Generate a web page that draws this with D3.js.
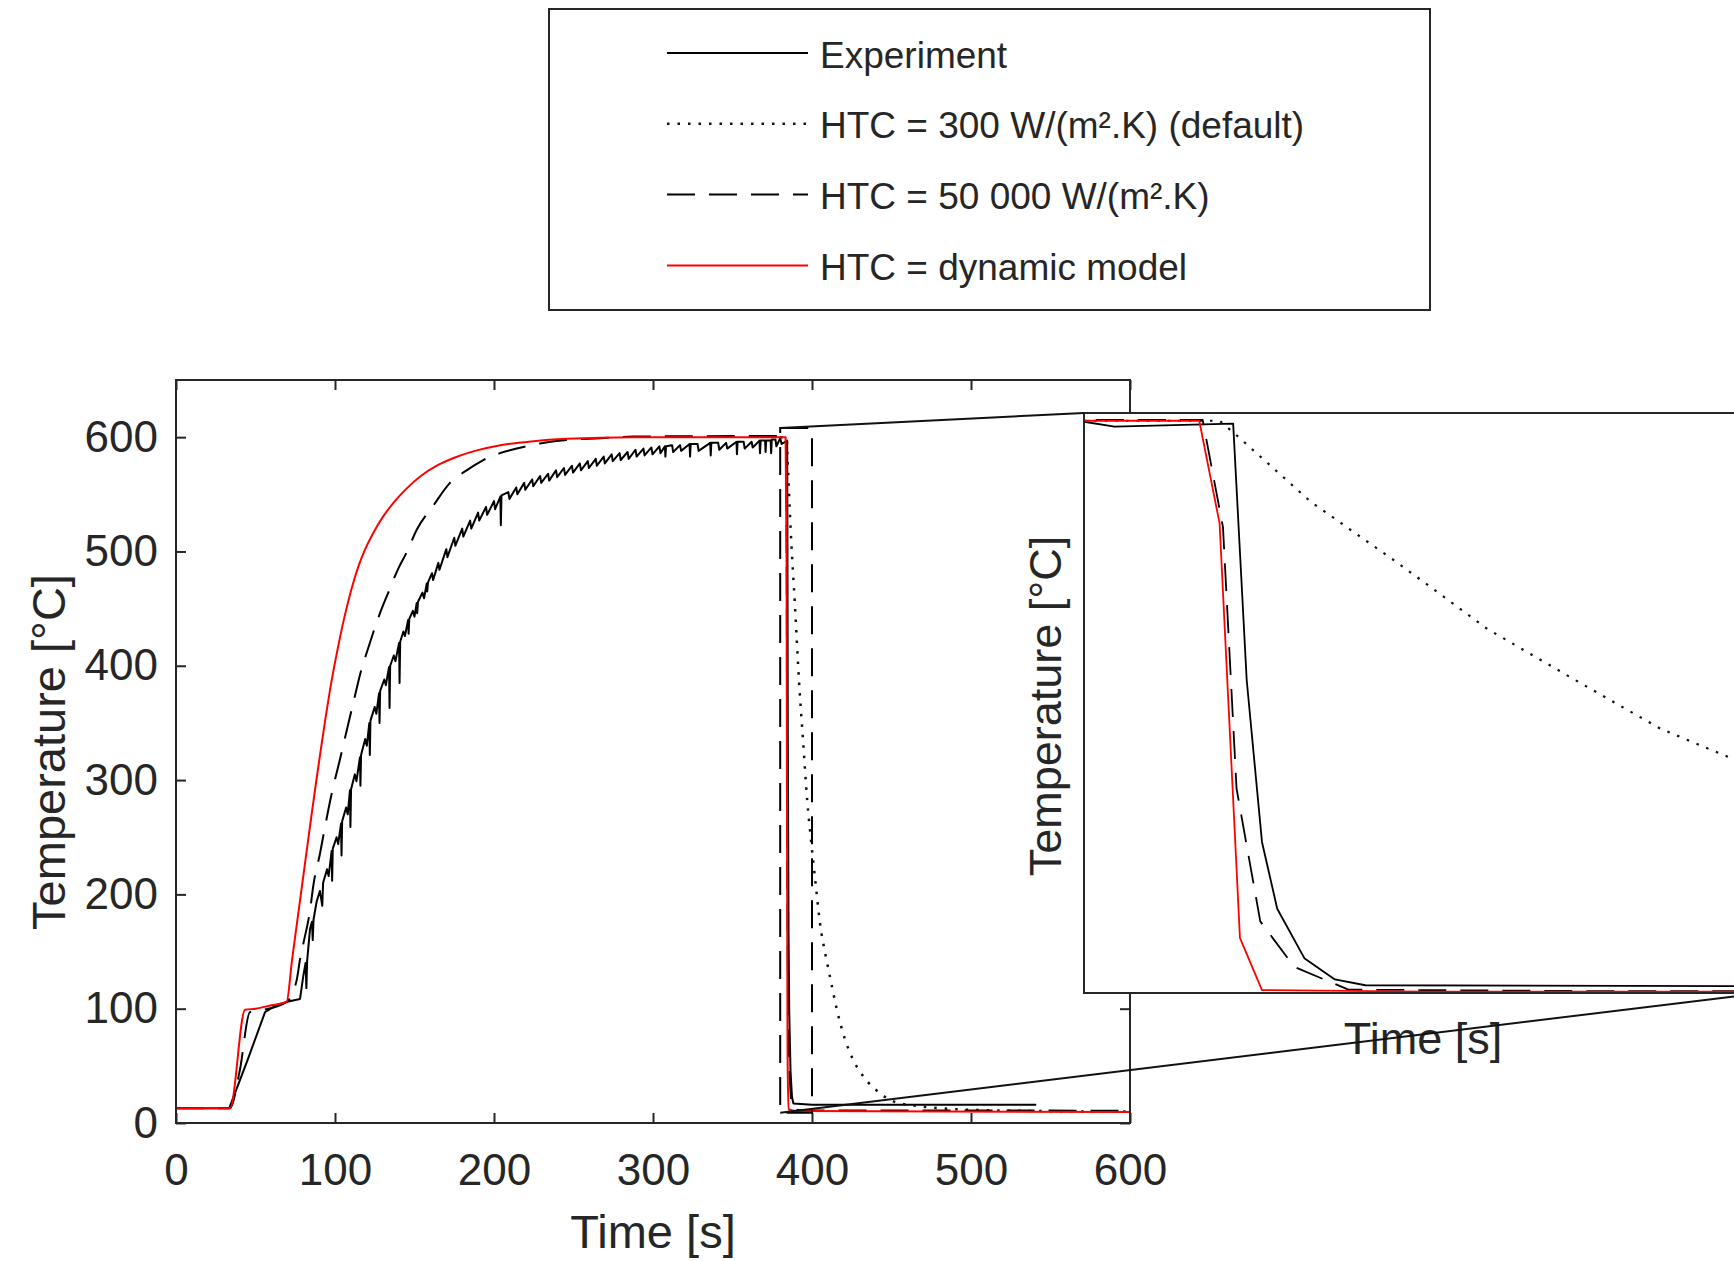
<!DOCTYPE html>
<html>
<head>
<meta charset="utf-8">
<script src="https://cdn.jsdelivr.net/npm/d3@7"></script>
<style>
  body { margin: 0; background: #fff; }
  svg { display: block; font-family: "Liberation Sans", Arial, Helvetica, sans-serif; }
</style>
</head>
<body>
<svg id="chart" width="1734" height="1261"></svg>
<script>
// ---- data: [time s, temperature °C] ----
var experiment = [
  [0,13],[33.5,13],[45,55],[56,97],[63,103],[70,106],[78,108.5],
  [80,128],[81.5,140],[82,118],[82.5,142],[84.3,170],[85.5,176],[86,160],[86.5,178],
  [88.5,194],[90.5,203],[92,190],[92.5,210],[95,222],[96,216],[97.9,238],[98.2,212],[98.6,240],
  [101,250],[102,244],[103.8,262],[104.1,234],[104.5,264],[107,276],[108,270],[109.4,291],
  [109.7,259],[110.1,292],[112.5,305],[113.5,299],[115.7,320],[116,295],[116.4,322],
  [119,336],[120,330],[121.6,350],[121.9,322],[122.3,352],[125,364],[126,358],[127.7,376],
  [128,350],[128.4,378],[131,388],[132,383],[134,399],[134.3,363],[134.7,400],[137,409],
  [138,404],[140.3,420],[140.6,385],[141,421],[143,430],[144,426],[146,440],[146.3,428],
  [146.7,441],[149,448],[150,443],[151.4,455],[151.7,446],[152.2,456],[155,464],[156,459],
  [157.7,472],[158,465],[158.5,473],[161,481],[161.7,475],
  [165,490],[165.7,484],[170,502],[170.7,495],[175,512],[175.7,505],[180,520],[180.7,513],
  [185,527],[185.7,520],[190,534],[190.7,527],[195,539],[195.7,532],[200,544],[200.7,537],
  [204,548],[204.3,523],[204.7,549],[209,552],[209.7,546],[214,556],[214.7,550],
  [219,560],[219.7,554],[224,563],[224.7,557],[229,566],[229.7,560],[234,568],[234.7,562],
  [239,571],[239.7,565],[244,573],[244.7,567],[249,575],[249.7,569],[254,577],[254.7,571],
  [259,579],[259.7,573],[264,581],[264.7,575],[269,583],[269.7,577],[274,585],[274.7,579],
  [279,586],[279.7,580],[284,587],[284.7,581],[289,589],[289.7,583],[294,590],[294.7,584],
  [299,591],[299.7,585],[304,592],[304.7,586],[307.5,592],[307.8,583],[308.2,592],
  [312,593],[312.7,587],[317,593],[317.7,588],[323,594],[323.3,583],[323.7,594],
  [328,594],[328.7,588],[336,595],[336.3,584],[336.7,595],[341,595],[341.7,589],
  [346,595],[346.7,590],[352.5,596],[352.8,585],[353.2,596],[357,596],[357.7,590],
  [362,596],[362.7,591],[367,597],[367.3,586],[367.7,597],[370.5,597],[370.8,587],
  [371.2,597],[374,597],[374.3,586],[374.7,598],[377,598],[377.6,592],[380,599],
  [380.9,594],[384.4,597],[384.8,332],[385.25,165],[385.7,96],[386.5,45],[387.4,23],
  [388.3,17],[400,16],[450,16],[541,16]
];

var htc300 = [
  [380,600],[384,600],[384.5,585],[386.7,516],[389.3,452],[391.9,385],[394.5,332],
  [397,282],[399.2,250],[402,213],[405,175],[408.8,145],[411.3,128],[415.5,100],
  [420.8,73],[426,55],[433.3,39],[442.8,26],[448,21],[456,17],[466,15],[480,13],
  [500,11.5],[540,10.5],[600,10]
];

var htc50000 = [
  [0,13],[34,13],[40,45],[46.5,97],[55,99],[69.6,106],[75.9,125],[78,143],[80.1,157],
  [84.3,186],[86.4,208],[90.6,236],[93.7,259],[97.9,288],[103.1,318],[107.3,343],
  [112.6,374],[115.7,392],[121,416],[128.3,446],[133.5,464],[139.8,485],[145,499],
  [151.4,519],[161.8,540],[172.3,560],[182.8,571],[193.3,580],[203.8,586],[214.3,590],
  [229,594.5],[245.7,597.5],[266.7,599],[287.6,600.5],[383.5,601],[384.1,490],
  [384.5,220],[385.2,83],[386.2,36],[387.8,12.5],[395,11],[600,10.8]
];

var dynamicModel = [
  [0,13],[34,13],[43.4,99],[50,100],[60,103],[69.6,106],[73,143],[76,174],[79,205],
  [82,236],[85,267],[88,297],[91,326],[94,354],[97,380],[100,403],[103,424],[106,443],
  [109,460],[112,475],[115,488],[119,502],[124,516],[130,530],[137,543],[145,555],
  [154,566],[164,575],[175,582],[188,588],[204,593],[225,596.5],[246,598.5],[288,600],
  [383.4,600],[384,494],[384.6,66],[385.25,12],[390,10.5],[600,9.6]
];

var xTicks = [0, 100, 200, 300, 400, 500, 600];
var yTicks = [0, 100, 200, 300, 400, 500, 600];
var zoomTime = [380, 400];
var zoomTemp = [9, 608];
var legendLabels = ["Experiment", "HTC = 300 W/(m\u00b2.K) (default)",
                    "HTC = 50 000 W/(m\u00b2.K)", "HTC = dynamic model"];

// ---- drawing ----
var ink = "#262626";
var svg = d3.select("#chart");

// styles, in legend order
var styles = [
  {data: experiment,   color: "#000",    dash: null,     width: 2,   curve: d3.curveLinear},
  {data: htc300,       color: "#111",    dash: "2.5,8",  width: 2.5, curve: d3.curveMonotoneX},
  {data: htc50000,     color: "#000",    dash: "28,14",  width: 2,   curve: d3.curveMonotoneX},
  {data: dynamicModel, color: "#ff0000", dash: null,     width: 2,   curve: d3.curveMonotoneX}
];

// main axes
var x = d3.scaleLinear().domain([0, 600]).range([176, 1130]);
var y = d3.scaleLinear().domain([0, 650]).range([1123, 380]);

var defs = svg.append("defs");
defs.append("clipPath").attr("id", "mainClip").append("rect")
    .attr("x", 176).attr("y", 380).attr("width", 954).attr("height", 743);

var main = svg.append("g").attr("clip-path", "url(#mainClip)");
styles.forEach(function(s) {
  var line = d3.line().curve(s.curve)
      .x(function(d) { return x(d[0]); })
      .y(function(d) { return y(d[1]); });
  main.append("path").datum(s.data)
      .attr("d", line)
      .attr("fill", "none")
      .attr("stroke", s.color)
      .attr("stroke-width", s.width)
      .attr("stroke-dasharray", s.dash)
      .attr("stroke-linejoin", "round");
});

function styleAxis(g) {
  g.select(".domain").remove();
  g.selectAll(".tick line").attr("stroke", ink).attr("stroke-width", 2);
  g.selectAll(".tick text").attr("fill", ink).attr("font-size", 44)
      .attr("font-family", "Liberation Sans, Arial, sans-serif");
}

svg.append("g").attr("transform", "translate(0,1123)")
    .call(d3.axisBottom(x).tickValues(xTicks).tickSizeInner(-10).tickSizeOuter(0).tickPadding(31))
    .call(styleAxis);
svg.append("g").attr("transform", "translate(0,380)")
    .call(d3.axisTop(x).tickValues(xTicks).tickSizeInner(-10).tickSizeOuter(0).tickFormat(""))
    .call(styleAxis);
svg.append("g").attr("transform", "translate(176,0)")
    .call(d3.axisLeft(y).tickValues(yTicks).tickSizeInner(-10).tickSizeOuter(0).tickPadding(18))
    .call(styleAxis);
svg.append("g").attr("transform", "translate(1130,0)")
    .call(d3.axisRight(y).tickValues(yTicks).tickSizeInner(-10).tickSizeOuter(0).tickFormat(""))
    .call(styleAxis);

svg.append("rect").attr("x", 176).attr("y", 380).attr("width", 954).attr("height", 743)
    .attr("fill", "none").attr("stroke", ink).attr("stroke-width", 2);

svg.append("text").attr("x", 653).attr("y", 1248).attr("text-anchor", "middle")
    .attr("font-size", 47).attr("fill", ink).text("Time [s]");
svg.append("text").attr("transform", "translate(65,752) rotate(-90)").attr("text-anchor", "middle")
    .attr("font-size", 47).attr("fill", ink).text("Temperature [\u00b0C]");

// zoom box on main chart
svg.append("rect")
    .attr("x", x(zoomTime[0])).attr("y", y(zoomTemp[1]))
    .attr("width", x(zoomTime[1]) - x(zoomTime[0]))
    .attr("height", y(zoomTemp[0]) - y(zoomTemp[1]))
    .attr("fill", "none").attr("stroke", "#000").attr("stroke-width", 2)
    .attr("stroke-dasharray", "28,14");

// inset
var inset = {left: 1084, top: 413, right: 1762, bottom: 993};
var xi = d3.scaleLinear().domain(zoomTime).range([inset.left, inset.right]);
var yi = d3.scaleLinear().domain(zoomTemp).range([inset.bottom, inset.top]);

svg.append("rect").attr("x", inset.left).attr("y", inset.top)
    .attr("width", inset.right - inset.left).attr("height", inset.bottom - inset.top)
    .attr("fill", "#fff");

defs.append("clipPath").attr("id", "insetClip").append("rect")
    .attr("x", inset.left).attr("y", inset.top)
    .attr("width", inset.right - inset.left).attr("height", inset.bottom - inset.top);

var ig = svg.append("g").attr("clip-path", "url(#insetClip)");
styles.forEach(function(s) {
  var line = d3.line().curve(d3.curveLinear)
      .x(function(d) { return xi(d[0]); })
      .y(function(d) { return yi(d[1]); });
  ig.append("path").datum(s.data)
      .attr("d", line)
      .attr("fill", "none")
      .attr("stroke", s.color)
      .attr("stroke-width", s.width === 2.5 ? 2.2 : 1.8)
      .attr("stroke-dasharray", s.dash)
      .attr("stroke-linejoin", "round");
});

svg.append("rect").attr("x", inset.left).attr("y", inset.top)
    .attr("width", inset.right - inset.left).attr("height", inset.bottom - inset.top)
    .attr("fill", "none").attr("stroke", ink).attr("stroke-width", 2);

svg.append("text").attr("x", (inset.left + inset.right) / 2).attr("y", 1054)
    .attr("text-anchor", "middle").attr("font-size", 45).attr("fill", ink).text("Time [s]");
svg.append("text").attr("transform", "translate(1061,706) rotate(-90)").attr("text-anchor", "middle")
    .attr("font-size", 45).attr("fill", ink).text("Temperature [\u00b0C]");

// connector lines from zoom box to inset
svg.append("line")
    .attr("x1", x(zoomTime[0])).attr("y1", y(zoomTemp[1]))
    .attr("x2", inset.left).attr("y2", inset.top)
    .attr("stroke", "#111").attr("stroke-width", 2);
svg.append("line")
    .attr("x1", x(zoomTime[0])).attr("y1", y(zoomTemp[0]))
    .attr("x2", inset.right).attr("y2", inset.bottom)
    .attr("stroke", "#111").attr("stroke-width", 2);

// legend
var leg = svg.append("g");
leg.append("rect").attr("x", 549).attr("y", 9).attr("width", 881).attr("height", 301)
    .attr("fill", "#fff").attr("stroke", ink).attr("stroke-width", 2);
legendLabels.forEach(function(label, i) {
  var ly = 53 + i * 70.8;
  var s = styles[i];
  leg.append("line").attr("x1", 667).attr("x2", 808).attr("y1", ly).attr("y2", ly)
      .attr("stroke", s.color).attr("stroke-width", s.width)
      .attr("stroke-dasharray", s.dash);
  leg.append("text").attr("x", 820).attr("y", ly + 14.5)
      .attr("font-size", 37).attr("fill", ink).text(label);
});
</script>
</body>
</html>
